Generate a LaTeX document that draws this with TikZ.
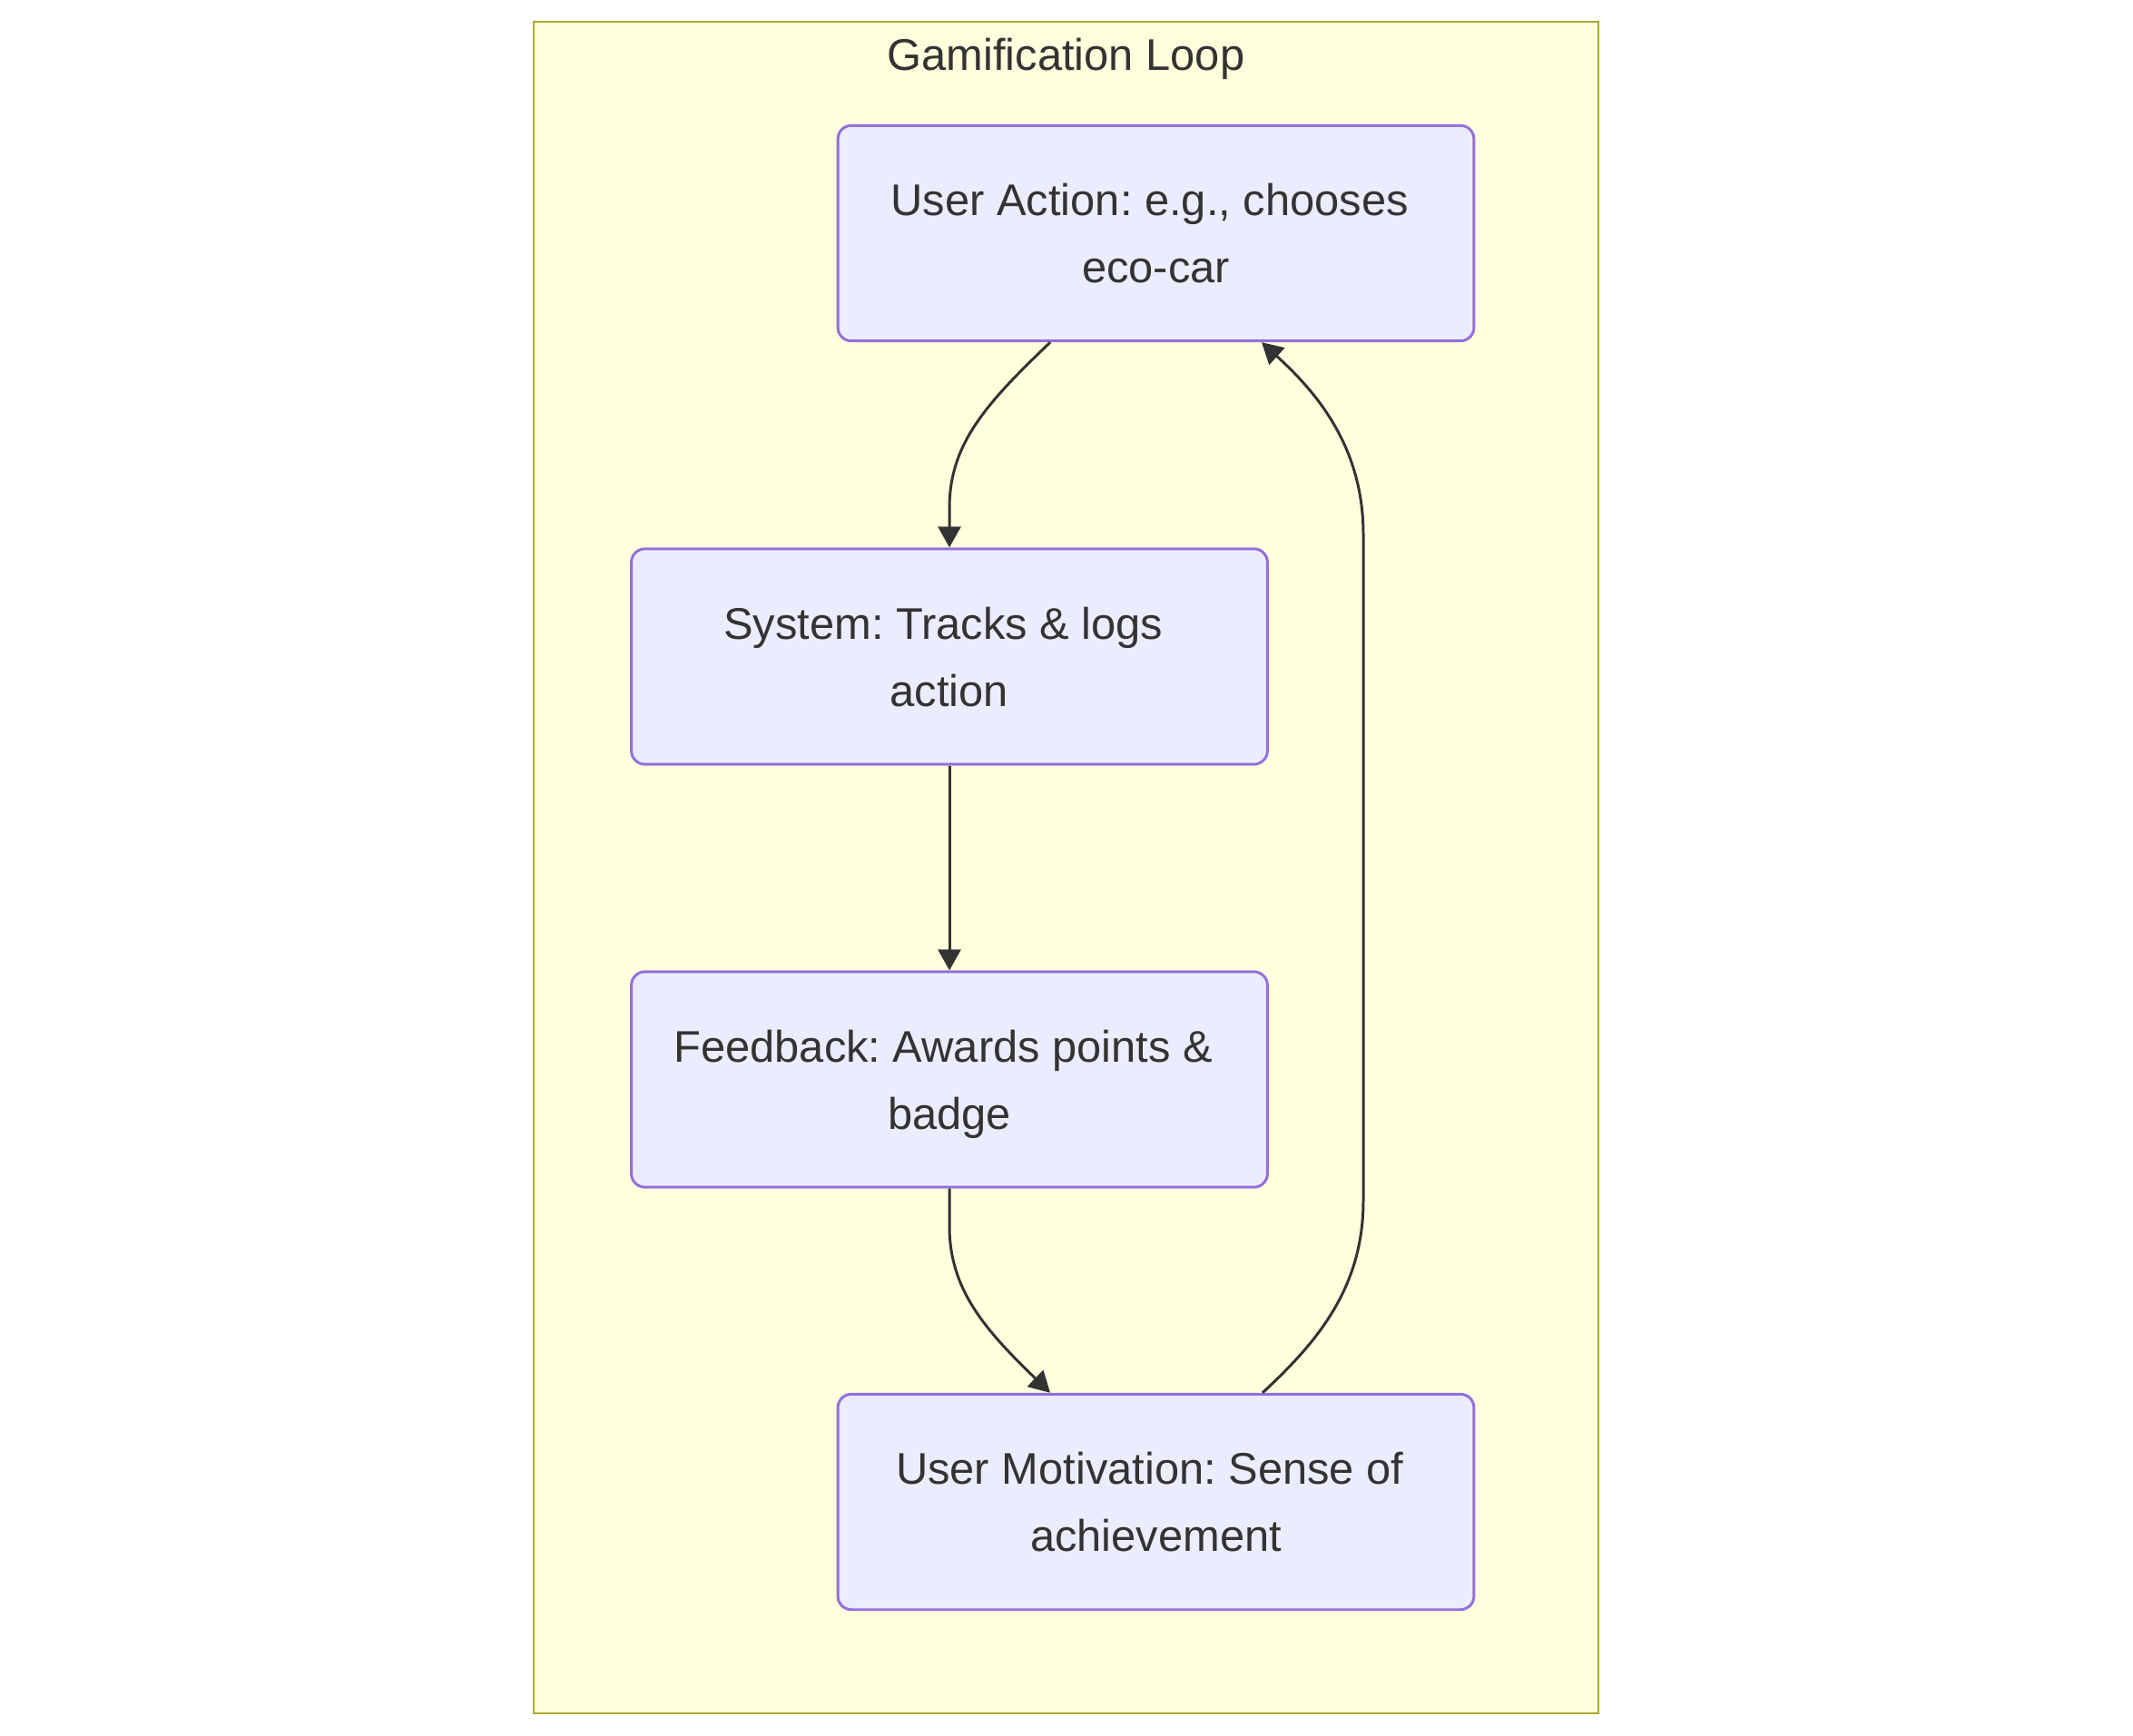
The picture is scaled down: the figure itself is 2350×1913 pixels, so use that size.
\documentclass[tikz,border=0pt]{standalone}
\usepackage{fontspec}
\setmainfont{Liberation Sans}
\frenchspacing
\usetikzlibrary{arrows.meta}
\definecolor{loopfill}{HTML}{FFFFDE}
\definecolor{loopline}{HTML}{AAAA33}
\definecolor{boxfill}{HTML}{ECECFF}
\definecolor{boxline}{HTML}{9370DB}
\definecolor{ink}{HTML}{333333}
\newcommand{\wrapgap}{\hspace*{.278em}}

\begin{document}
\begin{tikzpicture} [x=0.02cm, y=-0.02cm,
    stage/.style={draw=boxline, fill=boxfill, line width=1.7pt, rounded corners=0.3cm,
      minimum width=14.02cm, minimum height=4.75cm, align=center, text=ink, text depth=0pt,
      font=\fontsize{27.8}{42}\selectfont},
    flow/.style={draw=ink, line width=1.7pt, -{Triangle[length=0.46cm,width=0.5cm]}}]
      \useasboundingbox (0,0) rectangle (2350,1913);
      \draw[fill=loopfill, draw=loopline, line width=1.5pt] (588,24) rectangle (1761,1888); %draw loop frame
      \node[text=ink, anchor=base, font=\fontsize{27.8}{42}\selectfont] (title) at (1174.5,78) {Gamification Loop};

      %draw stages
      \node[stage] (action) at (1273.5,257) {User Action: e.g., chooses\wrapgap\\eco-car};
      \node[stage] (system) at (1046,723.5) {System: Tracks \& logs\wrapgap\\action};
      \node[stage] (feedback) at (1046,1189.5) {Feedback: Awards points \&\wrapgap\\badge};
      \node[stage] (motive) at (1273.5,1655) {User Motivation: Sense of\wrapgap\\achievement};

      %draw arrows
      \draw[flow] ([xshift=-2.33cm]action.south) .. controls (1085,446) and (1046,490) .. (1046,560) -- (system.north);
      \draw[flow] (system.south) -- (feedback.north);
      \draw[flow] (feedback.south) -- (1046,1351) .. controls (1046,1421) and (1085,1465) .. ([xshift=-2.33cm]motive.north);
      \draw[flow] ([xshift=2.35cm]motive.north) .. controls (1450,1480) and (1502,1420) .. (1502,1323)
        -- (1502,589) .. controls (1502,492) and (1450,432) .. ([xshift=2.33cm]action.south);
\end{tikzpicture}
\end{document}
